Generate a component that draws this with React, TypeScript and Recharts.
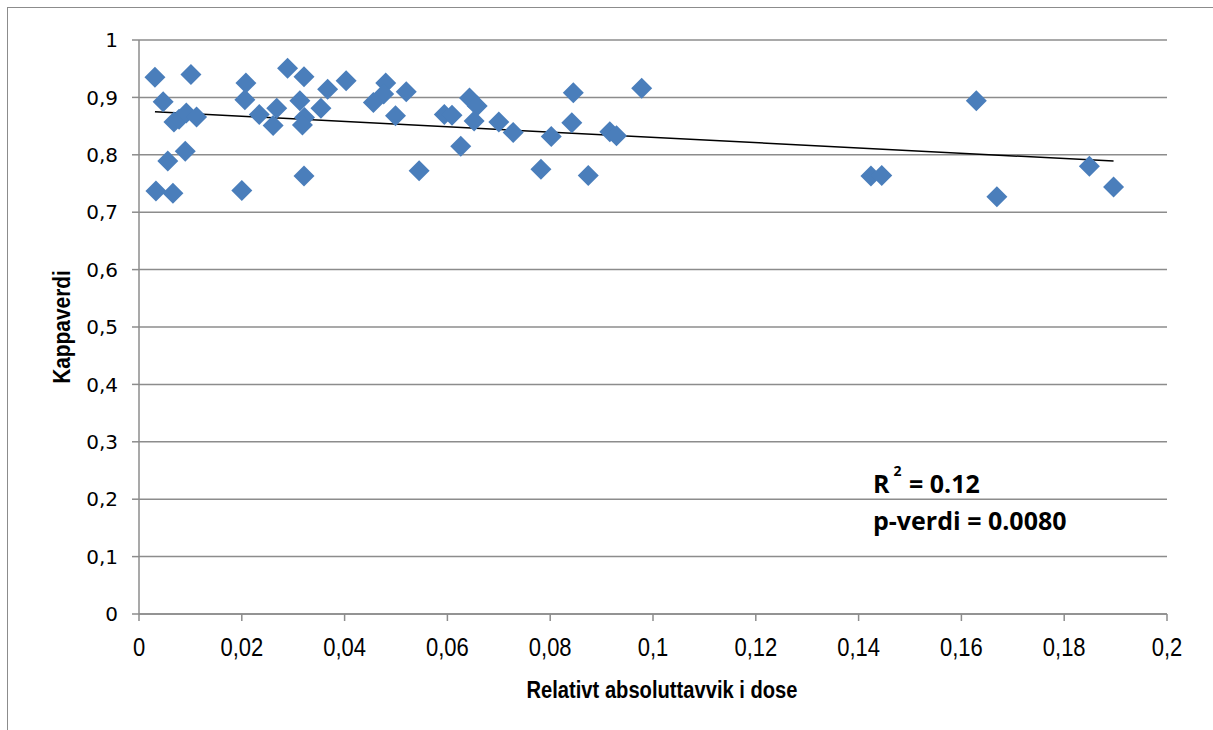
import React from 'react';
import { ScatterChart, Scatter, XAxis, YAxis, CartesianGrid, ReferenceLine, Label } from 'recharts';

// relative absolute dose deviation vs kappa value
const doseDeviation = [
  0.0031, 0.0101, 0.0047, 0.0033, 0.0066, 0.0056, 0.009, 0.0068, 0.0078, 0.0092,
  0.0112, 0.0208, 0.0206, 0.02, 0.0234, 0.0268, 0.0261, 0.0289, 0.0321, 0.0313,
  0.0322, 0.0318, 0.0321, 0.0367, 0.0354, 0.0403, 0.048, 0.0476, 0.0456, 0.052,
  0.0499, 0.0545, 0.0594, 0.0609, 0.0626, 0.0643, 0.0658, 0.0652, 0.07, 0.0728,
  0.0782, 0.0802, 0.0845, 0.0842, 0.0874, 0.0916, 0.0929, 0.0978, 0.1424, 0.1445,
  0.1629, 0.1669, 0.1849, 0.1896,
];
const kappa = [
  0.935, 0.94, 0.8925, 0.737, 0.733, 0.789, 0.806, 0.857, 0.862, 0.873,
  0.866, 0.925, 0.896, 0.738, 0.87, 0.881, 0.851, 0.951, 0.936, 0.894,
  0.865, 0.852, 0.763, 0.914, 0.881, 0.929, 0.925, 0.906, 0.891, 0.91,
  0.868, 0.772, 0.87, 0.869, 0.815, 0.899, 0.885, 0.859, 0.857, 0.839,
  0.775, 0.832, 0.908, 0.856, 0.764, 0.84, 0.833, 0.916, 0.763, 0.764,
  0.894, 0.727, 0.78, 0.744,
];

// linear fit (kappa = intercept + slope * deviation)
const trendIntercept = 0.8764;
const trendSlope = -0.461;
const trendRange = [0.0031, 0.1896];

const xTicks = [0, 0.02, 0.04, 0.06, 0.08, 0.1, 0.12, 0.14, 0.16, 0.18, 0.2];
const yTicks = [0, 0.1, 0.2, 0.3, 0.4, 0.5, 0.6, 0.7, 0.8, 0.9, 1];

const points = doseDeviation.map((x, i) => ({ x, y: kappa[i] }));
const trendSegment = trendRange.map((x) => ({ x, y: trendIntercept + trendSlope * x }));

const fmt = (v: number) => String(Number(v.toFixed(2))).replace('.', ',');

const axisColor = '#8c8c8c';
const narrowFont = '"Liberation Sans", Arial, sans-serif';

const Diamond = (props: any) => {
  const { cx, cy } = props;
  const r = 10.5;
  return (
    <polygon
      points={`${cx},${cy - r} ${cx + r},${cy} ${cx},${cy + r} ${cx - r},${cy}`}
      fill="#4a7ebb"
    />
  );
};

// condensed tick labels on the x axis
const XTick = (props: any) => {
  const { x, y, payload } = props;
  return (
    <text
      transform={`translate(${x},${y}) scale(0.88,1)`}
      textAnchor="middle"
      dy="0.71em"
      fontSize={25}
      fontFamily={narrowFont}
      fill="#000"
    >
      {fmt(payload.value)}
    </text>
  );
};

const XTitle = (props: any) => {
  const { viewBox } = props;
  const cx = viewBox.x + viewBox.width / 2 + 9;
  return (
    <text
      transform={`translate(${cx},${viewBox.y + 84}) scale(0.84,1)`}
      textAnchor="middle"
      fontSize={24}
      fontWeight="bold"
      fontFamily={narrowFont}
      fill="#000"
    >
      Relativt absoluttavvik i dose
    </text>
  );
};

const YTitle = (props: any) => {
  const { viewBox } = props;
  const cy = viewBox.y + viewBox.height / 2;
  return (
    <text
      transform={`translate(${viewBox.x - 9},${cy}) rotate(-90) scale(0.87,1)`}
      textAnchor="middle"
      fontSize={24}
      fontWeight="bold"
      fontFamily={narrowFont}
      fill="#000"
    >
      Kappaverdi
    </text>
  );
};

export default function App() {
  return (
    <div
      style={{
        position: 'absolute',
        left: 7,
        top: 7,
        width: 1260,
        height: 760,
        border: '1px solid #8c8c8c',
        background: '#fff',
      }}
    >
      <ScatterChart width={1210} height={725} margin={{ top: 32, right: 51, bottom: 59, left: 71 }}>
        <CartesianGrid horizontal vertical={false} stroke={axisColor} strokeWidth={1.5} />
        <XAxis
          type="number"
          dataKey="x"
          domain={[0, 0.2]}
          ticks={xTicks}
          height={60}
          stroke={axisColor}
          strokeWidth={1.5}
          tickSize={7}
          tickMargin={17}
          tick={<XTick />}
        >
          <Label content={<XTitle />} />
        </XAxis>
        <YAxis
          type="number"
          dataKey="y"
          domain={[0, 1]}
          ticks={yTicks}
          tickFormatter={fmt}
          width={60}
          stroke={axisColor}
          strokeWidth={1.5}
          tickSize={7}
          tickMargin={14}
          tick={{ fill: '#000', fontSize: 20, fontFamily: '"DejaVu Sans", sans-serif' }}
        >
          <Label content={<YTitle />} />
        </YAxis>
        <Scatter data={points} shape={<Diamond />} isAnimationActive={false} />
        <ReferenceLine segment={trendSegment} stroke="#000" strokeWidth={1.5} ifOverflow="extendDomain" />
      </ScatterChart>
      <div
        style={{
          position: 'absolute',
          left: 865,
          top: 457,
          fontSize: 25,
          fontWeight: 'bold',
          fontFamily: '"Open Sans", sans-serif',
          lineHeight: '37px',
          color: '#000',
          whiteSpace: 'nowrap',
        }}
      >
        <div>
          R
          <sup
            style={{
              fontSize: 14,
              verticalAlign: 'top',
              position: 'relative',
              top: -13,
              marginLeft: 4,
              marginRight: 1,
            }}
          >
            2
          </sup>{' '}
          = 0.12
        </div>
        <div>p-verdi = 0.0080</div>
      </div>
    </div>
  );
}
